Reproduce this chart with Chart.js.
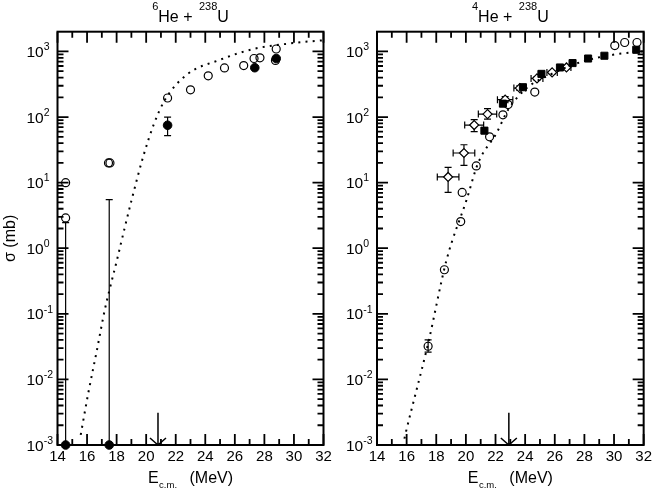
<!DOCTYPE html>
<html>
<head>
<meta charset="utf-8">
<title>He + U fusion cross sections</title>
<script src="https://cdn.jsdelivr.net/npm/chart.js@4.4.1/dist/chart.umd.min.js"></script>
<style>
  body { margin: 0; background: #fff; }
  #wrap { position: relative; width: 655px; height: 490px; overflow: hidden; }
  #wrap canvas { position: absolute; top: 0; }
</style>
</head>
<body>
<div id="wrap">
  <canvas id="leftChart" width="345" height="490" style="left:0"></canvas>
  <canvas id="rightChart" width="325" height="490" style="left:330px"></canvas>
</div>
<script>
var FONT = "'Liberation Sans', Arial, sans-serif";

// axes
var xTicks = [14, 16, 18, 20, 22, 24, 26, 28, 30, 32];
var xMinorTicks = [15, 17, 19, 21, 23, 25, 27, 29, 31];
var yDecades = [-3, -2, -1, 0, 1, 2, 3];
var yMinorSteps = [2, 3, 4, 5, 6, 7, 8, 9];

// 6He + 238U
var he6OpenX = [14.55, 14.55, 17.45, 17.55, 21.45, 23.0, 24.2, 25.3, 26.6, 27.3, 27.7, 28.75, 28.8];
var he6OpenY = [10, 2.9, 20, 20, 195, 260, 425, 560, 610, 780, 800, 730, 1090];
var he6FilledX = [14.55, 17.5, 21.45, 27.35, 28.8];
var he6FilledY = [0.001, 0.001, 75, 565, 780];
var he6FilledLo = [null, null, 52, null, null];
var he6FilledHi = [2.45, 5.5, 100, null, null];
var he6CurveX = [15.57, 16.09, 16.65, 17.21, 17.55, 18.0, 18.57, 19.02, 19.8, 20.55, 21.27, 22.74, 25.0, 27.25, 29.95, 31.87, 32];
var he6CurveY = [0.00143, 0.0063, 0.0267, 0.118, 0.247, 0.63, 2.15, 5.5, 25, 81, 183, 441, 747, 1088, 1343, 1473, 1480];

// 4He + 238U
var he4OpenX = [17.45, 18.55, 19.65, 19.75, 20.7, 21.6, 22.5, 22.85, 24.65, 30.05, 30.72, 31.55];
var he4OpenY = [0.032, 0.47, 2.55, 7.1, 18, 50, 108, 155, 240, 1230, 1370, 1370];
var he4OpenLo = [0.026, null, null, null, null, null, null, null, null, null, null, null];
var he4OpenHi = [0.04, null, null, null, null, null, null, null, null, null, null, null];
var he4SquareX = [21.25, 22.5, 23.85, 25.1, 26.35, 27.2, 28.25, 29.35, 31.5];
var he4SquareY = [62, 160, 285, 455, 570, 665, 780, 860, 1060];
var he4DiamondX = [18.8, 19.87, 20.56, 21.46, 22.65, 23.64, 24.8, 25.82, 26.79];
var he4DiamondY = [12.2, 28.3, 75.5, 111, 184, 276, 388, 479, 570];
var he4DiamondDx = [0.73, 0.73, 0.64, 0.62, 0.52, 0.4, 0.4, 0.35, 0.3];
var he4DiamondLo = [7.1, 18.3, 60, 93, 165, 255, 365, 455, 545];
var he4DiamondHi = [17.1, 37.8, 91.6, 134, 205, 300, 410, 505, 600];
var he4CurveX = [15.85, 15.96, 17.46, 18.7, 20.05, 20.83, 22.07, 22.85, 24.1, 25.67, 27.9, 29.93, 31.85, 32];
var he4CurveY = [0.00125, 0.0016, 0.036, 0.67, 5.5, 20, 57, 129, 276, 441, 705, 890, 1000, 1010];

// barrier arrows
var arrowX = [20.8, 22.9];
var arrowTop = 0.0031;

function pts(xs, ys) {
  return xs.map(function (x, i) { return { x: x, y: ys[i] }; });
}
function errs(lo, hi, dx) {
  return lo.map(function (l, i) { return { lo: l, hi: hi[i], dx: dx ? dx[i] : 0 }; });
}

function drawRich(ctx, parts, x, y, align) {
  var w = 0;
  parts.forEach(function (p) {
    ctx.font = p[1] + 'px ' + FONT;
    w += ctx.measureText(p[0]).width + (p[3] || 0);
  });
  var cx = align === 'center' ? x - w / 2 : x;
  ctx.textAlign = 'left';
  ctx.textBaseline = 'alphabetic';
  parts.forEach(function (p) {
    cx += p[3] || 0;
    ctx.font = p[1] + 'px ' + FONT;
    ctx.fillText(p[0], cx, y + p[2]);
    cx += ctx.measureText(p[0]).width;
  });
}

var errorBars = {
  id: 'errorBars',
  beforeDatasetsDraw: function (chart) {
    var ctx = chart.ctx, xs = chart.scales.x, ys = chart.scales.y;
    ctx.save();
    ctx.strokeStyle = '#000';
    ctx.lineWidth = 1.2;
    ctx.beginPath();
    chart.data.datasets.forEach(function (ds) {
      if (!ds.errors) return;
      ds.data.forEach(function (p, i) {
        var e = ds.errors[i];
        var px = xs.getPixelForValue(p.x), py = ys.getPixelForValue(p.y);
        if (e.lo != null || e.hi != null) {
          var y1 = ys.getPixelForValue(e.lo != null ? e.lo : p.y);
          var y2 = ys.getPixelForValue(e.hi != null ? e.hi : p.y);
          ctx.moveTo(px, y1); ctx.lineTo(px, y2);
          if (e.lo != null) { ctx.moveTo(px - 3.5, y1); ctx.lineTo(px + 3.5, y1); }
          if (e.hi != null) { ctx.moveTo(px - 3.5, y2); ctx.lineTo(px + 3.5, y2); }
        }
        if (e.dx) {
          var x1 = xs.getPixelForValue(p.x - e.dx), x2 = xs.getPixelForValue(p.x + e.dx);
          ctx.moveTo(x1, py); ctx.lineTo(x2, py);
          ctx.moveTo(x1, py - 3.5); ctx.lineTo(x1, py + 3.5);
          ctx.moveTo(x2, py - 3.5); ctx.lineTo(x2, py + 3.5);
        }
      });
    });
    ctx.stroke();
    ctx.restore();
  }
};

function framePlugin(cfg) {
  return {
    id: 'frame',
    afterDraw: function (chart) {
      var ctx = chart.ctx, a = chart.chartArea, xs = chart.scales.x, ys = chart.scales.y;
      ctx.save();
      ctx.strokeStyle = '#000';
      ctx.fillStyle = '#000';
      ctx.lineWidth = 1.8;
      ctx.beginPath();
      function tickX(v, len) {
        var px = xs.getPixelForValue(v);
        ctx.moveTo(px, a.bottom); ctx.lineTo(px, a.bottom - len);
        ctx.moveTo(px, a.top); ctx.lineTo(px, a.top + len);
      }
      function tickY(v, len) {
        var py = ys.getPixelForValue(v);
        ctx.moveTo(a.left, py); ctx.lineTo(a.left + len, py);
        ctx.moveTo(a.right, py); ctx.lineTo(a.right - len, py);
      }
      xTicks.forEach(function (v) { tickX(v, 11); });
      xMinorTicks.forEach(function (v) { tickX(v, 6); });
      yDecades.forEach(function (d) {
        tickY(Math.pow(10, d), 11);
        yMinorSteps.forEach(function (m) {
          var v = m * Math.pow(10, d);
          if (v < ys.max) tickY(v, 6);
        });
      });
      ctx.stroke();
      ctx.lineWidth = 2;
      ctx.strokeRect(a.left, a.top, a.right - a.left, a.bottom - a.top);

      // barrier arrow
      var ax = xs.getPixelForValue(cfg.arrow);
      var ay0 = ys.getPixelForValue(arrowTop), ay1 = ys.getPixelForValue(ys.min);
      ctx.lineWidth = 1.5;
      ctx.beginPath();
      ctx.moveTo(ax, ay0); ctx.lineTo(ax, ay1);
      ctx.moveTo(ax - 8, ay1 - 7); ctx.lineTo(ax, ay1); ctx.lineTo(ax + 8, ay1 - 7);
      ctx.stroke();

      // y tick labels 10^n
      yDecades.forEach(function (d) {
        var py = ys.getPixelForValue(Math.pow(10, d));
        drawRich(ctx, [['10', 15.5, 5.6], [String(d), 10.5, -1.2]], a.left - 31, py, 'left');
      });

      // panel title and x title
      var cx = (a.left + a.right) / 2;
      drawRich(ctx, cfg.title, cx, 21.7, 'center');
      drawRich(ctx, [['E', 16, 0], ['c.m.', 9.5, 5, 0.5], [' (MeV)', 16, 0, 8]], cx, 483, 'center');

      if (cfg.yTitle) {
        ctx.save();
        ctx.translate(11, (a.top + a.bottom) / 2);
        ctx.rotate(-Math.PI / 2);
        ctx.font = '16px ' + FONT;
        ctx.textAlign = 'center';
        ctx.textBaseline = 'middle';
        ctx.fillText(cfg.yTitle, 0, 0);
        ctx.restore();
      }
      ctx.restore();
    }
  };
}

function curveSet(xs, ys) {
  return {
    data: pts(xs, ys), showLine: true, pointRadius: 0, borderColor: '#000',
    borderWidth: 2, borderDash: [2, 5.2], borderCapStyle: 'butt',
    cubicInterpolationMode: 'monotone'
  };
}
function openSet(xs, ys, e) {
  return {
    data: pts(xs, ys), pointStyle: 'circle', pointRadius: 4, borderWidth: 1.2,
    borderColor: '#000', backgroundColor: 'rgba(0,0,0,0)', showLine: false, errors: e, clip: false
  };
}

function makeChart(id, datasets, padRight, yWidth, cfg) {
  return new Chart(document.getElementById(id), {
    type: 'scatter',
    data: { datasets: datasets },
    options: {
      responsive: false,
      animation: false,
      events: [],
      layout: { padding: { top: 31.7, right: padRight, left: 0, bottom: 0 } },
      plugins: { legend: { display: false }, tooltip: { enabled: false } },
      scales: {
        x: {
          type: 'linear', min: 14, max: 32,
          afterBuildTicks: function (s) { s.ticks = xTicks.map(function (v) { return { value: v }; }); },
          afterFit: function (s) { s.height = 45; },
          grid: { display: false, drawTicks: false },
          border: { display: false },
          ticks: { padding: 3, color: '#000', maxRotation: 0, autoSkip: false, font: { family: FONT, size: 15 } }
        },
        y: {
          type: 'logarithmic', min: 0.001, max: 2000,
          afterFit: function (s) { s.width = yWidth; },
          grid: { display: false, drawTicks: false },
          border: { display: false },
          ticks: { display: false }
        }
      }
    },
    plugins: [errorBars, framePlugin(cfg)]
  });
}

makeChart('leftChart', [
  curveSet(he6CurveX, he6CurveY),
  openSet(he6OpenX, he6OpenY, null),
  {
    data: pts(he6FilledX, he6FilledY), pointStyle: 'circle', pointRadius: 4.3, borderWidth: 1,
    borderColor: '#000', backgroundColor: '#000', showLine: false, clip: false,
    errors: errs(he6FilledLo, he6FilledHi)
  }
], 21.5, 57.5, {
  arrow: arrowX[0],
  yTitle: '\u03c3 (mb)',
  title: [['6', 11, -12], ['He + ', 16, 0], ['238', 11, -12, 2], ['U', 16, 0]]
});

makeChart('rightChart', [
  curveSet(he4CurveX, he4CurveY),
  openSet(he4OpenX, he4OpenY, errs(he4OpenLo, he4OpenHi)),
  {
    data: pts(he4SquareX, he4SquareY), pointStyle: 'rect', pointRadius: 5, borderWidth: 1,
    borderColor: '#000', backgroundColor: '#000', showLine: false
  },
  {
    data: pts(he4DiamondX, he4DiamondY), pointStyle: 'rectRot', pointRadius: 4.5, borderWidth: 1.2,
    borderColor: '#000', backgroundColor: '#fff', showLine: false,
    errors: errs(he4DiamondLo, he4DiamondHi, he4DiamondDx)
  }
], 11, 47, {
  arrow: arrowX[1],
  yTitle: null,
  title: [['4', 11, -12], ['He + ', 16, 0], ['238', 11, -12, 2], ['U', 16, 0]]
});
</script>
</body>
</html>
